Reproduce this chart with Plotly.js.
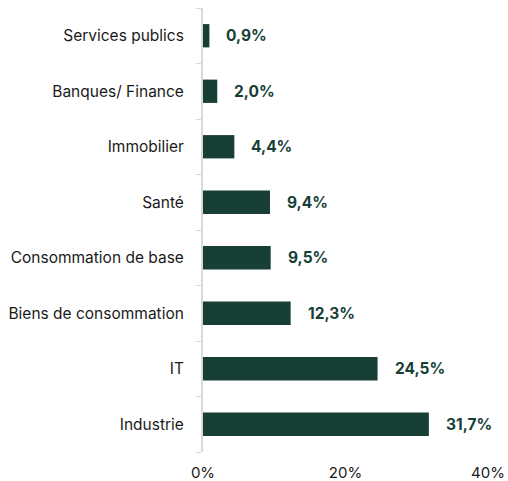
<!DOCTYPE html>
<html><head><meta charset="utf-8">
<script src="https://cdn.plot.ly/plotly-3.0.1.min.js"></script>
<style>html,body{margin:0;padding:0;background:#fff}#c{width:508px;height:481px}</style>
</head><body><div id="c"></div>
<script>
const categories = ["Industrie","IT","Biens de consommation","Consommation de base","Santé","Immobilier","Banques/ Finance","Services publics"];
const values = [31.7,24.5,12.3,9.5,9.4,4.4,2.0,0.9];
const valueLabels = ["31,7%","24,5%","12,3%","9,5%","9,4%","4,4%","2,0%","0,9%"];
const xTicks = [0,20,40];
const xTickLabels = ["0%","20%","40%"];

const green = "#173f36";
const trace = {
  type: "bar", orientation: "h",
  x: values, y: categories,
  marker: {color: green},
  hoverinfo: "none"
};
const annotations = categories.map((c,i)=>({
  x: values[i], y: c, xref:"x", yref:"y",
  text: valueLabels[i], showarrow:false, xanchor:"left", xshift: 15,
  font:{family:"Inter, sans-serif", size:15.5, color:green, weight:700}
}));
const layout = {
  width:508, height:481,
  margin:{l:203, r:20, t:8, b:29},
  paper_bgcolor:"#fff", plot_bgcolor:"#fff",
  bargap:0.58,
  showlegend:false,
  font:{family:"Inter, sans-serif", size:15.5, color:"#1a1a1a"},
  xaxis:{range:[0,40], tickvals:xTicks, ticktext:xTickLabels, showgrid:false, zeroline:false,
         showline:false, ticks:"", ticklabelstandoff:10, tickfont:{size:15, color:"#1a1a1a"}, fixedrange:true},
  yaxis:{type:"category", categoryorder:"array", categoryarray:categories, showgrid:false, zeroline:false,
         showline:true, linecolor:"#d9d9d9", linewidth:2, ticks:"outside", tickson:"boundaries",
         ticklen:5, tickcolor:"#d9d9d9", tickwidth:1, ticklabelstandoff:14,
         tickfont:{size:15.5, color:"#1a1a1a"}},
  annotations
};
Plotly.newPlot("c",[trace],layout,{displayModeBar:false,staticPlot:true});
</script></body></html>
